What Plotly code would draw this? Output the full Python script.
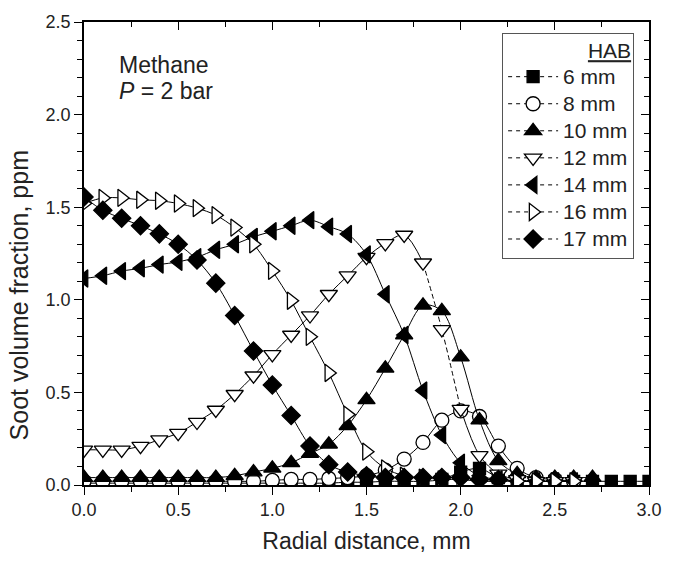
import plotly.graph_objects as go

# ---- data -------------------------------------------------------------
def grid(n):
    return [round(i * 0.1, 1) for i in range(n)]

hab_6 = [0.01, 0.01, 0.01, 0.01, 0.01, 0.01, 0.01, 0.01, 0.01, 0.01,
         0.01, 0.01, 0.01, 0.01, 0.015, 0.015, 0.02, 0.02, 0.02, 0.03,
         0.07, 0.09, 0.04, 0.02, 0.02, 0.02, 0.02, 0.02, 0.02, 0.02, 0.02]
hab_8 = [0.02, 0.02, 0.02, 0.02, 0.02, 0.02, 0.02, 0.02, 0.02, 0.02,
         0.025, 0.03, 0.03, 0.035, 0.04, 0.05, 0.08, 0.14, 0.23, 0.35,
         0.40, 0.37, 0.21, 0.09, 0.04, 0.03, 0.02]
hab_10 = [0.04, 0.04, 0.04, 0.04, 0.04, 0.04, 0.04, 0.04, 0.05, 0.07,
          0.09, 0.12, 0.17, 0.22, 0.32, 0.46, 0.63, 0.81, 0.97, 0.94,
          0.69, 0.35, 0.13, 0.06, 0.04, 0.04, 0.04, 0.04]
hab_12 = [0.19, 0.19, 0.19, 0.21, 0.245, 0.28, 0.34, 0.405, 0.49, 0.59,
          0.705, 0.81, 0.915, 1.03, 1.13, 1.23, 1.305, 1.35, 1.20, 0.84,
          0.41, 0.16, 0.06, 0.03, 0.02, 0.02, 0.02]
hab_14 = [1.115, 1.13, 1.155, 1.17, 1.19, 1.205, 1.23, 1.27, 1.30, 1.34,
          1.37, 1.40, 1.43, 1.395, 1.355, 1.245, 1.03, 0.81, 0.51, 0.27,
          0.12, 0.05, 0.03, 0.02, 0.02, 0.02, 0.02]
hab_16 = [1.52, 1.55, 1.55, 1.54, 1.535, 1.52, 1.495, 1.457, 1.39, 1.30,
          1.156, 0.995, 0.80, 0.605, 0.38, 0.18, 0.09, 0.05, 0.04, 0.03,
          0.03, 0.02, 0.02, 0.02, 0.02, 0.02, 0.02]
hab_17 = [1.555, 1.483, 1.44, 1.40, 1.356, 1.30, 1.215, 1.09, 0.915, 0.724,
          0.54, 0.375, 0.21, 0.11, 0.07, 0.05, 0.04, 0.04, 0.04, 0.04,
          0.04, 0.03, 0.03]

labels = ["6 mm", "8 mm", "10 mm", "12 mm", "14 mm", "16 mm", "17 mm"]
series = [hab_6, hab_8, hab_10, hab_12, hab_14, hab_16, hab_17]

x_ticks = [0.0, 0.5, 1.0, 1.5, 2.0, 2.5, 3.0]
y_ticks = [0.0, 0.5, 1.0, 1.5, 2.0, 2.5]

# ---- styles -----------------------------------------------------------
FONT = "Liberation Sans, Arial, sans-serif"
styles = [
    dict(symbol="square", size=12, color="black"),
    dict(symbol="circle", size=14, color="white"),
    dict(symbol="triangle-up", size=15, color="black"),
    dict(symbol="triangle-down", size=15, color="white"),
    dict(symbol="triangle-left", size=15, color="black"),
    dict(symbol="triangle-right", size=15, color="white"),
    dict(symbol="diamond", size=14, color="black"),
]

fig = go.Figure()

line_kw = dict(color="black", width=1, shape="spline", smoothing=0.9)

for lab, ys, st in zip(labels, series, styles):
    xs = grid(len(ys))
    mk = dict(symbol=st["symbol"], size=st["size"], color=st["color"],
              line=dict(color="black", width=1.3))
    if lab == "12 mm":
        i1, i2 = xs.index(1.8), xs.index(2.0)
        fig.add_trace(go.Scatter(x=xs[:i1 + 1], y=ys[:i1 + 1], mode="lines",
                                 line=line_kw, showlegend=False, hoverinfo="skip"))
        fig.add_trace(go.Scatter(x=xs[i1:i2 + 1], y=ys[i1:i2 + 1], mode="lines",
                                 line=dict(line_kw, dash="5px,3px"),
                                 showlegend=False, hoverinfo="skip"))
        fig.add_trace(go.Scatter(x=xs[i2:], y=ys[i2:], mode="lines",
                                 line=line_kw, showlegend=False, hoverinfo="skip"))
        fig.add_trace(go.Scatter(x=xs, y=ys, mode="markers", marker=mk,
                                 showlegend=False))
    else:
        fig.add_trace(go.Scatter(x=xs, y=ys, mode="lines+markers", line=line_kw,
                                 marker=mk, showlegend=False))

# legend-only entries (dashed line + marker)
for lab, st in zip(labels, styles):
    fig.add_trace(go.Scatter(
        x=[None], y=[None], mode="lines+markers",
        name=f'<span style="font-size:21px">{lab}</span>',
        line=dict(color="black", width=1, dash="4px,4px"),
        marker=dict(symbol=st["symbol"], size=st["size"], color=st["color"],
                    line=dict(color="black", width=1.3)),
    ))

# top / right mirrored axes with inward ticks
fig.add_trace(go.Scatter(x=[None], y=[None], xaxis="x2", yaxis="y2",
                         showlegend=False, hoverinfo="skip"))

axis_common = dict(showgrid=False, zeroline=False, showline=True,
                   linecolor="black", linewidth=1.5, tickcolor="black",
                   tickwidth=1.3)

fig.update_layout(
    width=674, height=562,
    margin=dict(l=84, r=14, t=18, b=72),
    paper_bgcolor="white", plot_bgcolor="white",
    font=dict(family=FONT, color="#222", size=18),
    xaxis=dict(axis_common, range=[0, 3], tickmode="array", tickvals=x_ticks,
               ticktext=[f"{v:.1f}" for v in x_ticks], ticks="outside", ticklen=8,
               minor=dict(dtick=0.25, ticks="outside", ticklen=5, tickcolor="black",
                          tickwidth=1.3),
               tickfont=dict(size=18),
               title=dict(text="Radial distance, mm", font=dict(size=23), standoff=14)),
    yaxis=dict(axis_common, range=[0, 2.5], tickmode="array", tickvals=y_ticks,
               ticktext=[f"{v:.1f}" for v in y_ticks], ticks="outside", ticklen=8,
               minor=dict(dtick=0.1, ticks="outside", ticklen=5, tickcolor="black",
                          tickwidth=1.3),
               tickfont=dict(size=18)),
    xaxis2=dict(axis_common, overlaying="x", side="top", range=[0, 3],
                tickmode="array", tickvals=x_ticks, showticklabels=False,
                ticks="inside", ticklen=8,
                minor=dict(dtick=0.25, ticks="inside", ticklen=5, tickcolor="black",
                           tickwidth=1.3)),
    yaxis2=dict(axis_common, overlaying="y", side="right", range=[0, 2.5],
                tickmode="array", tickvals=y_ticks, showticklabels=False,
                ticks="inside", ticklen=8,
                minor=dict(dtick=0.1, ticks="inside", ticklen=5, tickcolor="black",
                           tickwidth=1.3)),
    legend=dict(
        x=0.74, y=0.976, xanchor="left", yanchor="top",
        bgcolor="white", bordercolor="#555", borderwidth=1,
        font=dict(size=18.5, family=FONT, color="#222"),
        itemwidth=50, tracegroupgap=0,
        title=dict(text='<span style="font-size:21px"><u>HAB</u></span>',
                   side="top right", font=dict(size=18.5)),
    ),
    annotations=[
        dict(text="Methane", xref="paper", yref="paper", x=0.059, y=0.907,
             xanchor="left", yanchor="middle", showarrow=False,
             font=dict(size=23, family=FONT, color="#222")),
        dict(text="<i>P</i> = 2 bar", xref="paper", yref="paper", x=0.059, y=0.852,
             xanchor="left", yanchor="middle", showarrow=False,
             font=dict(size=23, family=FONT, color="#222")),
        dict(text="Soot volume fraction, ppm", xref="paper", yref="paper",
             x=-0.1146, y=0.41, xanchor="center", yanchor="middle", textangle=-90,
             showarrow=False, font=dict(size=25, family=FONT, color="#222")),
    ],
)

fig.write_html("out.html")
